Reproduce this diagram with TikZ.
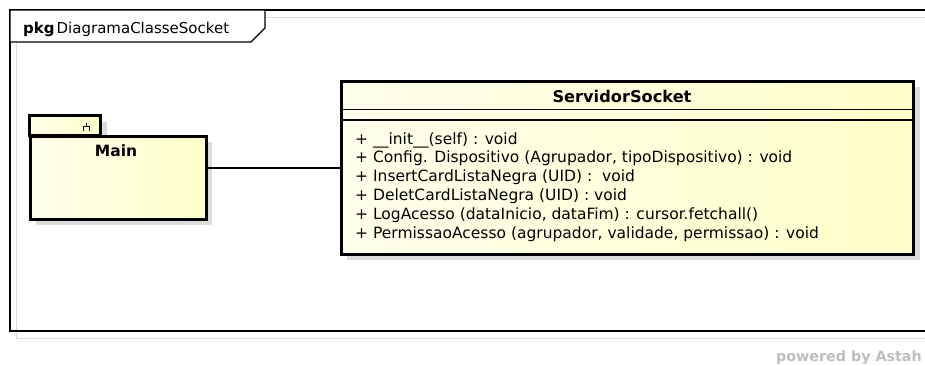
\documentclass[tikz,border=0pt]{standalone}
\usepackage{fontspec}
\setmainfont{DejaVu Sans}
\definecolor{paleA}{HTML}{FFFFEC}
\definecolor{paleB}{HTML}{FFFFCA}
\definecolor{shadowgray}{HTML}{DCDCDC}
\definecolor{astahgray}{HTML}{BDBDBD}
\begin{document}
\begin{tikzpicture}[x=1pt,y=-1pt,
  umltext/.style={inner sep=0pt,font=\fontsize{15.5}{18}\selectfont},
  optext/.style={umltext,anchor=base west},
  boxfill/.style={left color=paleA,right color=paleB},
  shadowbox/.style={fill=shadowgray,draw=none},
  thickline/.style={line width=3pt,draw=black},
]
\useasboundingbox (0,0) rectangle (925,365);
\clip (0,0) rectangle (925,365);

% diagram frame with its faint offset outline
\draw[shadowgray,line width=1pt] (16.5,17) rectangle (950,338);
\draw[black,line width=1.4pt] (10,10) rectangle (945,331);
\draw[black,line width=1.4pt,fill=white] (10,10) -- (265,10) -- (265,28) -- (251,42) -- (10,42) -- cycle;
\node[inner sep=0pt,font=\fontsize{15}{18}\selectfont,anchor=base west] (frametitle) at (23,33) {\textbf{pkg}\hspace{2pt}DiagramaClasseSocket};

% package Main
\fill[shadowgray] (36,122) rectangle (107,142);
\fill[shadowgray] (36,142) rectangle (212,225);
\draw[thickline,boxfill] (29,115) rectangle (100,135);
\node[draw=none,inner sep=0pt,minimum width=176pt,minimum height=83pt,anchor=north west,thickline,boxfill] (main) at (29,135) {};
\node[inner sep=0pt,font=\fontsize{15.5}{18}\selectfont\bfseries,anchor=base] (mainlabel) at (116,156.5) {Main};
% subsystem glyph on the tab
\draw[line width=1.1pt] (83.3,130.5) -- (83.3,126.7) -- (89.3,126.7) -- (89.3,130.5);
\draw[line width=1.1pt] (86.3,126.7) -- (86.3,122.5);

% class ServidorSocket
\fill[shadowgray] (347,87) rectangle (920,260);
\node[inner sep=0pt,minimum width=572pt,minimum height=173pt,anchor=north west,thickline,boxfill] (server) at (340,80) {};
\node[inner sep=0pt,font=\fontsize{16.2}{18}\selectfont\bfseries,anchor=base] (servername) at (622,102.5) {ServidorSocket};
\draw[line width=1.3pt] (server.west |- 0,109.5) -- (server.east |- 0,109.5);
\draw[line width=1.3pt] (server.west |- 0,120) -- (server.east |- 0,120);
\node[optext] (op1) at (355,144) {+ \_\_init\_\_(self) : void};
\node[optext] (op2) at (355,162.8) {+ Config. Dispositivo (Agrupador, tipoDispositivo) : void};
\node[optext] (op3) at (355,181.6) {+ InsertCardListaNegra (UID) : \ void};
\node[optext] (op4) at (355,200.4) {+ DeletCardListaNegra (UID) : void};
\node[optext] (op5) at (355,219.2) {+ LogAcesso (dataInicio, dataFim) : cursor.fetchall()};
\node[optext] (op6) at (355,238) {+ PermissaoAcesso (agrupador, validade, permissao) : void};

% association
\draw[line width=1.1pt] (main.east |- 0,168) -- (server.west |- 0,168);

% footer
\node[anchor=base east,inner sep=0pt,text=astahgray,font=\fontsize{14.3}{16}\selectfont\bfseries] (powered) at (922,361) {powered by Astah};
\end{tikzpicture}
\end{document}
